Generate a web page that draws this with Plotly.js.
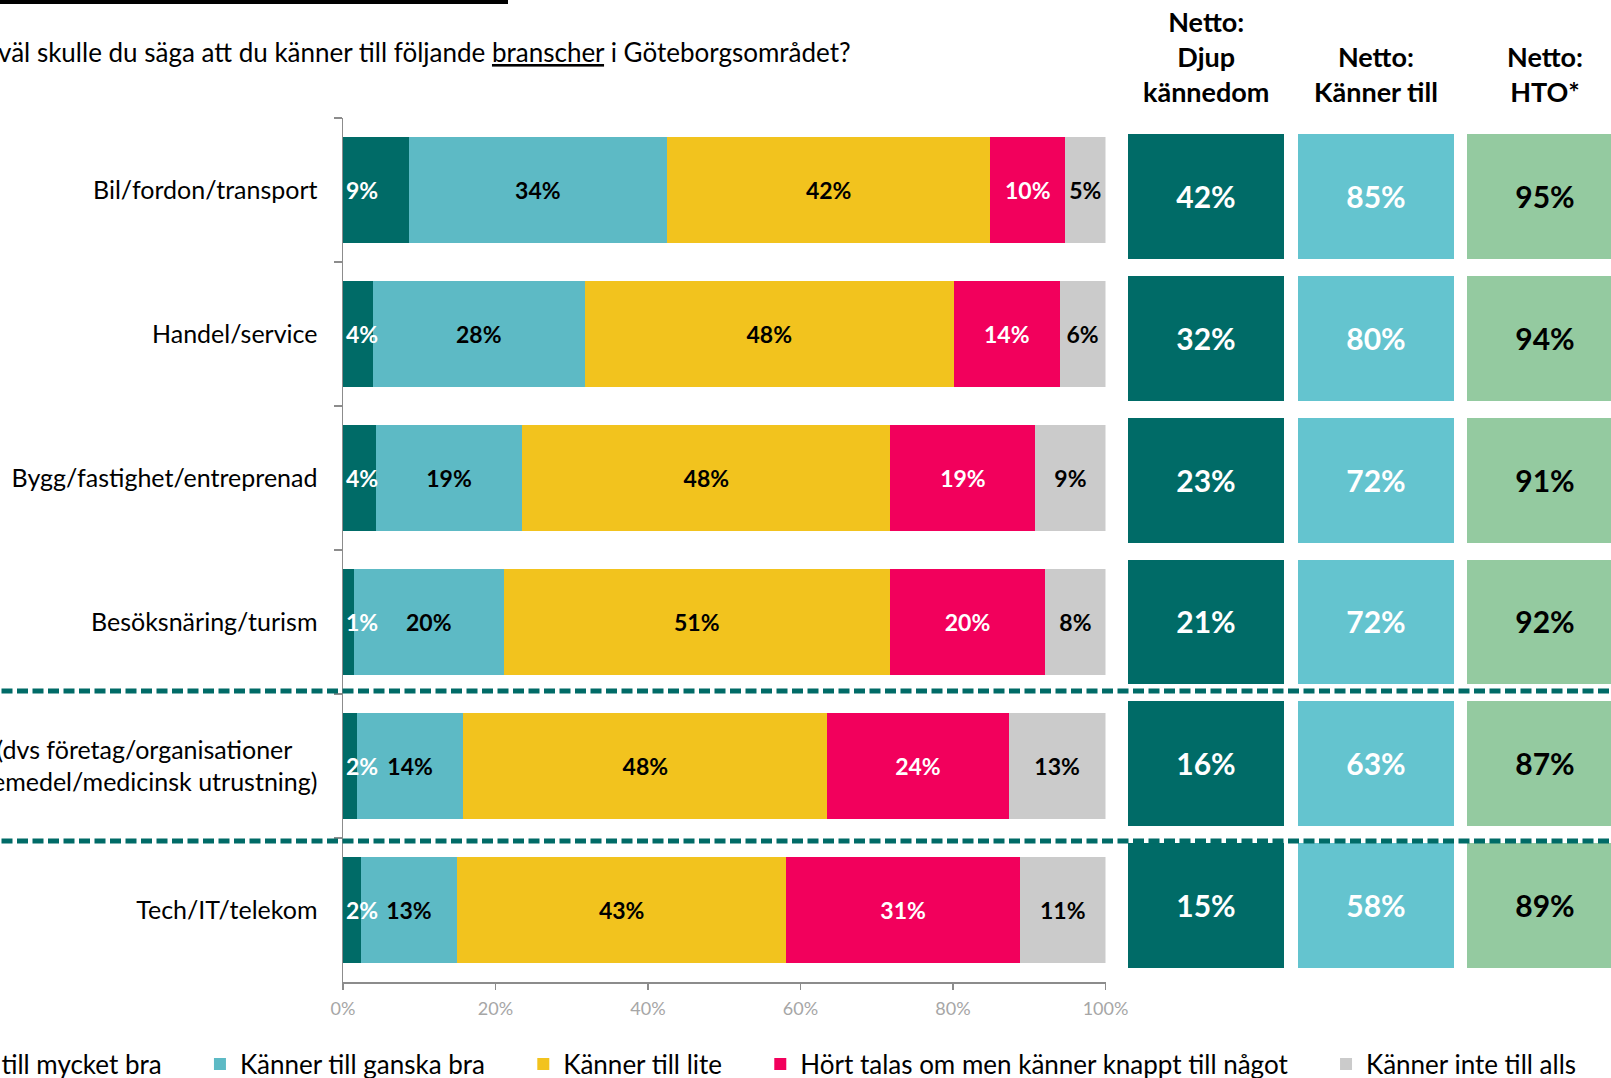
<!DOCTYPE html>
<html>
<head>
<meta charset="utf-8">
<script src="https://cdn.plot.ly/plotly-3.0.1.min.js"></script>
<style>
  html, body { margin: 0; padding: 0; overflow: hidden; background: #fff; }
  /* the slide is wider than the window: left and right edges are cut off like in the original */
  #chart { position: absolute; left: -200px; top: 0; width: 1911px; height: 1078px; }
</style>
</head>
<body>
<div id="chart"></div>
<script>
const CATEGORIES = [
  'Bil/fordon/transport',
  'Handel/service',
  'Bygg/fastighet/entreprenad',
  'Besöksnäring/turism',
  'Life science (dvs företag/organisationer\u00a0\u00a0\u00a0\u00a0<br>inom läkemedel/medicinsk utrustning)',
  'Tech/IT/telekom'
];

const SERIES = [
  'Känner till mycket bra',
  'Känner till ganska bra',
  'Känner till lite',
  'Hört talas om men känner knappt till något',
  'Känner inte till alls'
];

// andel i procent per bransch
const MYCKET_BRA = [8.6, 3.9, 4.3, 1.4, 1.8, 2.3];
const GANSKA_BRA = [33.9, 27.8, 19.2, 19.7, 14.0, 12.7];
const LITE       = [42.4, 48.4, 48.3, 50.6, 47.7, 43.1];
const HORT_TALAS = [9.8, 13.9, 19.0, 20.4, 23.8, 30.7];
const INTE_ALLS  = [5.3, 6.0, 9.2, 7.9, 12.7, 11.2];

// netto-kolumner
const NETTO_HEADERS = ['Netto:<br>Djup<br>kännedom', 'Netto:<br>Känner till', 'Netto:<br>HTO*'];
const NETTO_DJUP   = [42, 32, 23, 21, 16, 15];
const NETTO_KANNER = [85, 80, 72, 72, 63, 58];
const NETTO_HTO    = [95, 94, 91, 92, 87, 89];

const X_TICKS = [0, 20, 40, 60, 80, 100];
const X_TICK_LABELS = ['0%', '20%', '40%', '60%', '80%', '100%'];

const TEAL_DARK = '#006B67';
const TEAL_LIGHT = '#5DBAC5';
const YELLOW = '#F2C31E';
const PINK = '#F2005C';
const GRAY = '#CBCBCB';
const BOX_TEAL = '#64C4CF';
const BOX_GREEN = '#94CAA0';
const AXIS_GRAY = '#8c8c8c';

const FONT = 'Lato, "Open Sans", sans-serif';
const PAD = '\u00a0'.repeat(5); // extra space between legend entries

var seriesValues = [MYCKET_BRA, GANSKA_BRA, LITE, HORT_TALAS, INTE_ALLS];
var seriesColors = [TEAL_DARK, TEAL_LIGHT, YELLOW, PINK, GRAY];
var textColors = ['#fff', '#000', '#000', '#fff', '#000'];

var data = [];
for (var i = 0; i < SERIES.length; i++) {
  data.push({
    type: 'bar',
    orientation: 'h',
    name: SERIES[i] + (i < SERIES.length - 1 ? PAD : ''),
    y: CATEGORIES,
    x: seriesValues[i],
    marker: {color: seriesColors[i], line: {width: 0}},
    texttemplate: '<b>%{x:.0f}%</b>',
    // first series is labelled from the overlay below
    textposition: i === 0 ? 'none' : 'inside',
    insidetextanchor: 'middle',
    constraintext: 'none',
    textangle: 0,
    textfont: {family: FONT, size: 23, color: textColors[i]},
    hoverinfo: 'skip'
  });
}

// labels of the thin first segment spill over the next one,
// so they come from a see-through copy on an overlaying axis drawn on top
data.push({
  type: 'bar',
  orientation: 'h',
  yaxis: 'y3',
  y: CATEGORIES,
  x: MYCKET_BRA,
  marker: {color: 'rgba(0,0,0,0)', line: {width: 0}},
  texttemplate: '<b>%{x:.0f}%</b>',
  textposition: 'inside',
  insidetextanchor: 'start',
  constraintext: 'none',
  textangle: 0,
  textfont: {family: FONT, size: 23, color: '#fff'},
  showlegend: false,
  hoverinfo: 'skip'
});

// netto boxes: one heatmap column each
var nettoValues = [NETTO_DJUP, NETTO_KANNER, NETTO_HTO];
var nettoColors = [TEAL_DARK, BOX_TEAL, BOX_GREEN];
var nettoText = ['#fff', '#fff', '#000'];
for (var k = 0; k < 3; k++) {
  data.push({
    type: 'heatmap',
    xaxis: 'x' + (k + 2),
    yaxis: 'y2',
    x: [NETTO_HEADERS[k]],
    y: CATEGORIES,
    z: nettoValues[k].map(v => [v]),
    colorscale: [[0, nettoColors[k]], [1, nettoColors[k]]],
    showscale: false,
    ygap: 17,
    texttemplate: '<b>%{z}%</b>',
    textfont: {family: FONT, size: 30, color: nettoText[k]},
    showlegend: false,
    hoverinfo: 'skip'
  });
}

var W = 1911, H = 1078, OFFSET = 200;
function px(x) { return (x + OFFSET) / W; }
function py(y) { return 1 - y / H; }

var colDomains = [[1128, 1284], [1298, 1454], [1467, 1623]];

var layout = {
  width: W,
  height: H,
  margin: {l: 0, r: 0, t: 0, b: 0, autoexpand: false},
  paper_bgcolor: '#fff',
  plot_bgcolor: 'rgba(0,0,0,0)',
  font: {family: FONT, color: '#000'},
  barmode: 'stack',
  bargap: 0.26,
  hovermode: false,
  xaxis: {
    domain: [px(343), px(1105.5)],
    range: [0, 100],
    tickmode: 'array',
    tickvals: X_TICKS,
    ticktext: X_TICK_LABELS,
    showline: true, linecolor: AXIS_GRAY, linewidth: 1.5,
    ticks: 'outside', ticklen: 6, tickcolor: AXIS_GRAY, tickwidth: 1.5,
    showgrid: false, zeroline: false,
    tickfont: {size: 18, color: '#a6a6a6'},
    ticklabelstandoff: 4
  },
  yaxis: {
    domain: [py(982), py(118)],
    type: 'category',
    autorange: 'reversed',
    showline: true, linecolor: AXIS_GRAY, linewidth: 1.5,
    ticks: 'outside', tickson: 'boundaries', ticklen: 8, tickcolor: AXIS_GRAY, tickwidth: 1.5,
    showgrid: false, zeroline: false,
    tickfont: {size: 25, color: '#000'},
    ticklabelstandoff: 19
  },
  yaxis3: {
    overlaying: 'y',
    type: 'category',
    autorange: 'reversed',
    visible: false
  },
  yaxis2: {
    domain: [py(977), py(126)],
    type: 'category',
    autorange: 'reversed',
    anchor: 'x2',
    visible: false
  },
  legend: {
    orientation: 'h',
    x: px(1582), xanchor: 'right',
    y: py(1064), yanchor: 'middle',
    font: {family: FONT, size: 26, color: '#000'},
    traceorder: 'normal',
    bgcolor: 'rgba(0,0,0,0)'
  },
  shapes: [
    {type: 'rect', xref: 'paper', yref: 'paper', x0: 0, x1: px(508), y0: py(4), y1: 1,
     fillcolor: '#000', line: {width: 0}},
    {type: 'line', xref: 'paper', yref: 'paper', x0: 0, x1: 1, y0: py(691), y1: py(691),
     line: {color: TEAL_DARK, width: 5, dash: '11px,4.5px'}},
    {type: 'line', xref: 'paper', yref: 'paper', x0: 0, x1: 1, y0: py(841), y1: py(841),
     line: {color: TEAL_DARK, width: 5, dash: '11px,4.5px'}}
  ],
  annotations: [
    {xref: 'paper', yref: 'paper', x: px(853), y: py(52), xanchor: 'right', yanchor: 'middle',
     text: 'Hur väl skulle du säga att du känner till följande <u>branscher</u> i Göteborgsområdet?',
     showarrow: false, font: {size: 26, color: '#000'}}
  ]
};

for (var c = 0; c < 3; c++) {
  layout['xaxis' + (c + 2)] = {
    domain: [px(colDomains[c][0]), px(colDomains[c][1])],
    anchor: 'y2',
    visible: false
  };
  layout.annotations.push({
    xref: 'x' + (c + 2) + ' domain', yref: 'paper',
    x: 0.5, y: py(110), xanchor: 'center', yanchor: 'bottom',
    text: '<b>' + NETTO_HEADERS[c] + '</b>',
    showarrow: false,
    font: {size: 27, color: '#000'}
  });
}

Plotly.newPlot('chart', data, layout, {staticPlot: true, displayModeBar: false});
</script>
</body>
</html>
